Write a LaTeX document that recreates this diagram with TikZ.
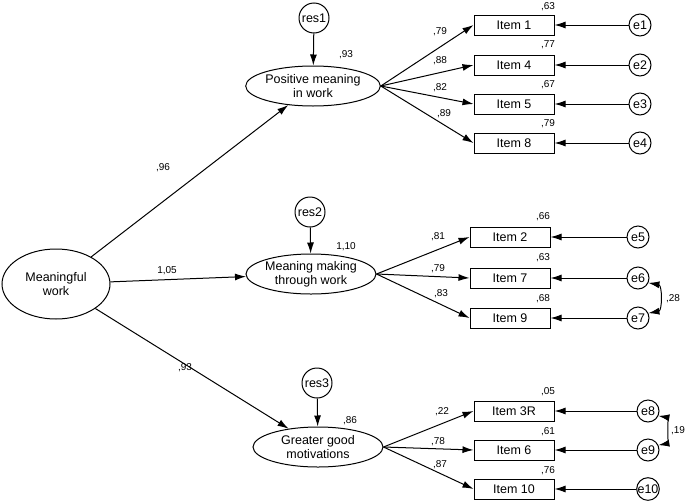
\documentclass[tikz,border=0pt]{standalone}
\usepackage{fontspec}
\setmainfont{Liberation Sans}
\usetikzlibrary{shapes.geometric, arrows.meta}

\begin{document}
\begin{tikzpicture}[
  x=1pt, y=-1pt,
  font=\fontsize{12.5}{14}\selectfont,
  latent/.style={ellipse, draw, line width=1pt, inner sep=0pt, align=center,
                 minimum width=130pt, minimum height=40pt},
  item/.style={rectangle, draw, line width=1pt, minimum width=80pt, minimum height=20pt},
  err/.style={circle, draw, line width=1pt, inner sep=0pt, minimum size=22pt},
  res/.style={circle, draw, line width=1pt, inner sep=0pt, minimum size=30pt},
  est/.style={font=\fontsize{10}{12}\selectfont, inner sep=0pt},
  arr/.style={-{Latex[length=11pt,width=7pt]}, line width=1pt},
  cov/.style={{Latex[length=11pt,width=7pt]}-{Latex[length=11pt,width=7pt]}, line width=1pt}
]
\useasboundingbox (0,0) rectangle (685,501);

% Latent variables
\node[latent, minimum width=108pt, minimum height=70pt] (mw) at (56,284) {Meaningful\\work};
\node[latent] (pm) at (313,86)  {Positive meaning\\in work};
\node[latent] (mm) at (311,274) {Meaning making\\through work};
\node[latent] (gg) at (318,447) {Greater good\\motivations};

% Residuals
\node[res] (res1) at (314,18)  {res1};
\node[res] (res2) at (310,212) {res2};
\node[res] (res3) at (317,383) {res3};

% Items
\node[item] (i1)  at (514,25)  {Item 1};
\node[item] (i4)  at (514,65)  {Item 4};
\node[item] (i5)  at (514,104) {Item 5};
\node[item] (i8)  at (514,143) {Item 8};
\node[item] (i2)  at (510,237) {Item 2};
\node[item] (i7)  at (510,278) {Item 7};
\node[item] (i9)  at (510,318) {Item 9};
\node[item] (i3r) at (514,411) {Item 3R};
\node[item] (i6)  at (514,450) {Item 6};
\node[item] (i10) at (514,489) {Item 10};

% Errors
\node[err] (e1)  at (640,25)  {e1};
\node[err] (e2)  at (640,65)  {e2};
\node[err] (e3)  at (640,104) {e3};
\node[err] (e4)  at (640,143) {e4};
\node[err] (e5)  at (638,237) {e5};
\node[err] (e6)  at (638,278) {e6};
\node[err] (e7)  at (638,318) {e7};
\node[err] (e8)  at (648,411) {e8};
\node[err] (e9)  at (648,450) {e9};
\node[err] (e10) at (648,489) {e10};

% Second order paths
\draw[arr] (mw) -- (pm);
\draw[arr] (mw) -- (mm);
\draw[arr] (mw) -- (gg);
\draw[arr] (res1) -- (pm);
\draw[arr] (res2) -- (mm);
\draw[arr] (res3) -- (gg);

% Loadings
\foreach \i in {i1,i4,i5,i8} \draw[arr] (pm.east) -- (\i.west);
\foreach \i in {i2,i7,i9} \draw[arr] (mm.east) -- (\i.west);
\foreach \i in {i3r,i6,i10} \draw[arr] (gg.east) -- (\i.west);

% Error terms
\foreach \e/\i in {e1/i1,e2/i4,e3/i5,e4/i8,e5/i2,e6/i7,e7/i9,e8/i3r,e9/i6,e10/i10}
  \draw[arr] (\e) -- (\i.east);

% Covariances
\draw[cov] (e6.-25) to[out=-10, in=10, looseness=1.2] (e7.25);
\draw[cov] (e8.-25) to[out=-10, in=10, looseness=0.8] (e9.25);

% Estimates
\node[est] (w1) at (163,168) {,96};
\node[est] (w2) at (167,271) {1,05};
\node[est] (w3) at (185,368) {,93};
\node[est] (r1) at (346,55)  {,93};
\node[est] (r2) at (346,247) {1,10};
\node[est] (r3) at (350,421) {,86};

\node[est] (l1)  at (440,32)  {,79};
\node[est] (l4)  at (440,61)  {,88};
\node[est] (l5)  at (440,88)  {,82};
\node[est] (l8)  at (444,114) {,89};
\node[est] (l2)  at (438,237) {,81};
\node[est] (l7)  at (438,269) {,79};
\node[est] (l9)  at (441,294) {,83};
\node[est] (l3r) at (442,412) {,22};
\node[est] (l6)  at (438,442) {,78};
\node[est] (l10) at (440,465) {,87};

\node[est] (q1)  at (548,7)   {,63};
\node[est] (q4)  at (548,45)  {,77};
\node[est] (q5)  at (548,85)  {,67};
\node[est] (q8)  at (548,124) {,79};
\node[est] (q2)  at (543,217) {,66};
\node[est] (q7)  at (543,258) {,63};
\node[est] (q9)  at (543,299) {,68};
\node[est] (q3r) at (548,392) {,05};
\node[est] (q6)  at (548,432) {,61};
\node[est] (q10) at (548,471) {,76};

\node[est] (c67) at (673,299) {,28};
\node[est] (c89) at (678,431) {,19};

\end{tikzpicture}
\end{document}
